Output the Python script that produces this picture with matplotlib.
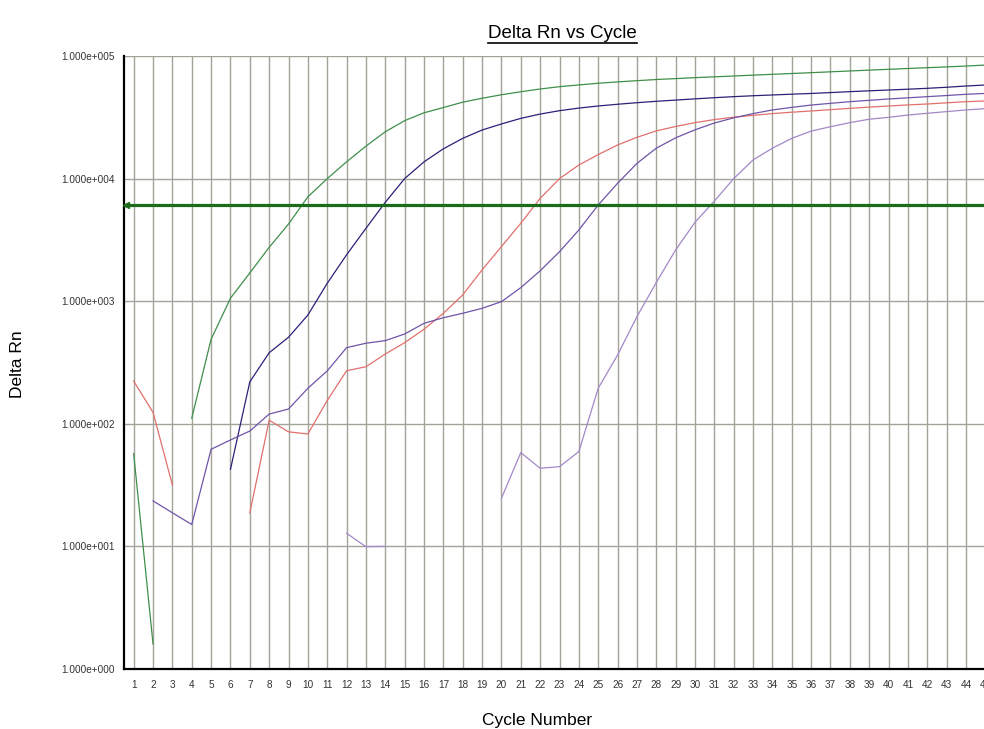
"""
Delta Rn vs Cycle amplification plot
"""

import numpy as np
import matplotlib.pyplot as plt
from matplotlib.lines import Line2D
from matplotlib.ticker import FixedLocator, FuncFormatter, NullLocator

nan = np.nan

cycles = list(range(1, 46))

green_rn = [57, 1.6, nan, 111, 489, 1057, 1700, 2750, 4260, 7100,
            10000, 13700, 18400, 24100, 29700, 34400, 38000, 42000, 45200, 48300,
            51100, 53800, 56200, 58100, 59900, 61500, 62900, 64300, 65400, 66600,
            67600, 68700, 69800, 70900, 72000, 73100, 74300, 75500, 76700, 77900,
            79100, 80300, 81500, 82800, 84400]

navy_rn = [nan, nan, nan, nan, nan, 42.5, 220, 380, 508, 771,
           1400, 2390, 3930, 6410, 10000, 13700, 17500, 21300, 24900, 27900,
           31000, 33600, 35800, 37600, 39100, 40400, 41600, 42700, 43700, 44700,
           45700, 46600, 47400, 48100, 48800, 49500, 50300, 51200, 52000, 52800,
           53600, 54500, 55600, 56900, 58000]

red_rn = [223, 124, 31.7, nan, nan, nan, 18.8, 107, 86, 82.6,
          155, 271, 292, 371, 459, 590, 797, 1125, 1800, 2790,
          4320, 6900, 10000, 12900, 15700, 18800, 21700, 24500, 26600, 28600,
          30300, 31700, 32800, 33900, 34800, 35600, 36500, 37400, 38300, 39100,
          39900, 40600, 41500, 42400, 43000]

purple_rn = [nan, 23.5, 18.8, 15.1, 62, 73.8, 87.3, 120, 132, 195,
             270, 418, 454, 477, 540, 660, 733, 797, 875, 991,
             1290, 1770, 2530, 3810, 6090, 9160, 13300, 17700, 21500, 25000,
             28400, 31300, 33900, 36300, 38100, 39800, 41100, 42400, 43500, 44600,
             45600, 46600, 47600, 48700, 49500]

lavender_rn = [nan, nan, nan, nan, nan, nan, nan, nan, nan, nan,
               nan, 12.8, 9.95, 10.0, nan, nan, nan, nan, nan, 24.7,
               58.2, 43.4, 44.7, 59.3, 195, 364, 748, 1420, 2620, 4400,
               6550, 10000, 14200, 17700, 21300, 24400, 26500, 28600, 30500, 31600,
               33000, 34100, 35200, 36300, 37200]

threshold = 6100

series = [
    (green_rn, "#3f8f4a"),
    (navy_rn, "#2e1f78"),
    (red_rn, "#e2706c"),
    (purple_rn, "#6f55a8"),
    (lavender_rn, "#a388c8"),
]


def log_label(val, pos):
    """ 1.000e+005 style labels """
    exp = int(round(np.log10(val)))
    return "%.3fe+%03d" % (val / 10.0 ** exp, exp)


def main():
    """ main """
    plt.switch_backend("agg")
    plt.rcParams['font.family'] = ['Liberation Sans', 'DejaVu Sans']

    fig = plt.figure(figsize=(9.84, 7.29), dpi=100)
    ax = fig.add_axes([124 / 984, 60 / 729, 871 / 984, 613 / 729])

    for vals, color in series:
        ax.plot(cycles, vals, color=color, lw=0.9)

    ax.axhline(threshold, color="#1b6b1b", lw=2.3, zorder=3)
    ax.plot([0.62], [threshold], marker="<", color="#1b6b1b",
            markersize=5, zorder=4, clip_on=False)

    ax.set_yscale("log")
    ax.set_xlim(0.5, 45.5)
    ax.set_ylim(1, 1e5)
    ax.xaxis.set_major_locator(FixedLocator(cycles))
    ax.yaxis.set_major_locator(FixedLocator([1, 10, 100, 1e3, 1e4, 1e5]))
    ax.yaxis.set_minor_locator(NullLocator())
    ax.yaxis.set_major_formatter(FuncFormatter(log_label))
    ax.tick_params(axis="y", length=0, pad=7, labelsize=7.2, labelcolor="#333333")
    ax.tick_params(axis="x", length=0, pad=8, labelsize=7.2, labelcolor="#333333")
    ax.grid(True, color="#a3a39a", lw=1.0)
    ax.set_axisbelow(True)

    for side in ("top", "right"):
        ax.spines[side].set_visible(False)
    for side in ("left", "bottom"):
        ax.spines[side].set_linewidth(1.6)
        ax.spines[side].set_color("black")

    title = fig.text(637 / 984, 1 - 33 / 729, "Delta Rn vs Cycle",
                     ha="right", va="center", fontsize=13.5)
    fig.text(18 / 984, 1 - 364 / 729, "Delta Rn", rotation=90,
             ha="center", va="center", fontsize=12.5)
    fig.text(537 / 984, 1 - 721 / 729, "Cycle Number",
             ha="center", va="center", fontsize=12.5)

    # underline the title
    fig.canvas.draw()
    bbox = title.get_window_extent().transformed(fig.transFigure.inverted())
    uy = bbox.y0 - 1.5 / 729
    fig.add_artist(Line2D([bbox.x0, bbox.x1], [uy, uy], color="black",
                          lw=1.2, transform=fig.transFigure))

    fig.savefig("out.png", dpi=100)


if __name__ == "__main__":
    main()
